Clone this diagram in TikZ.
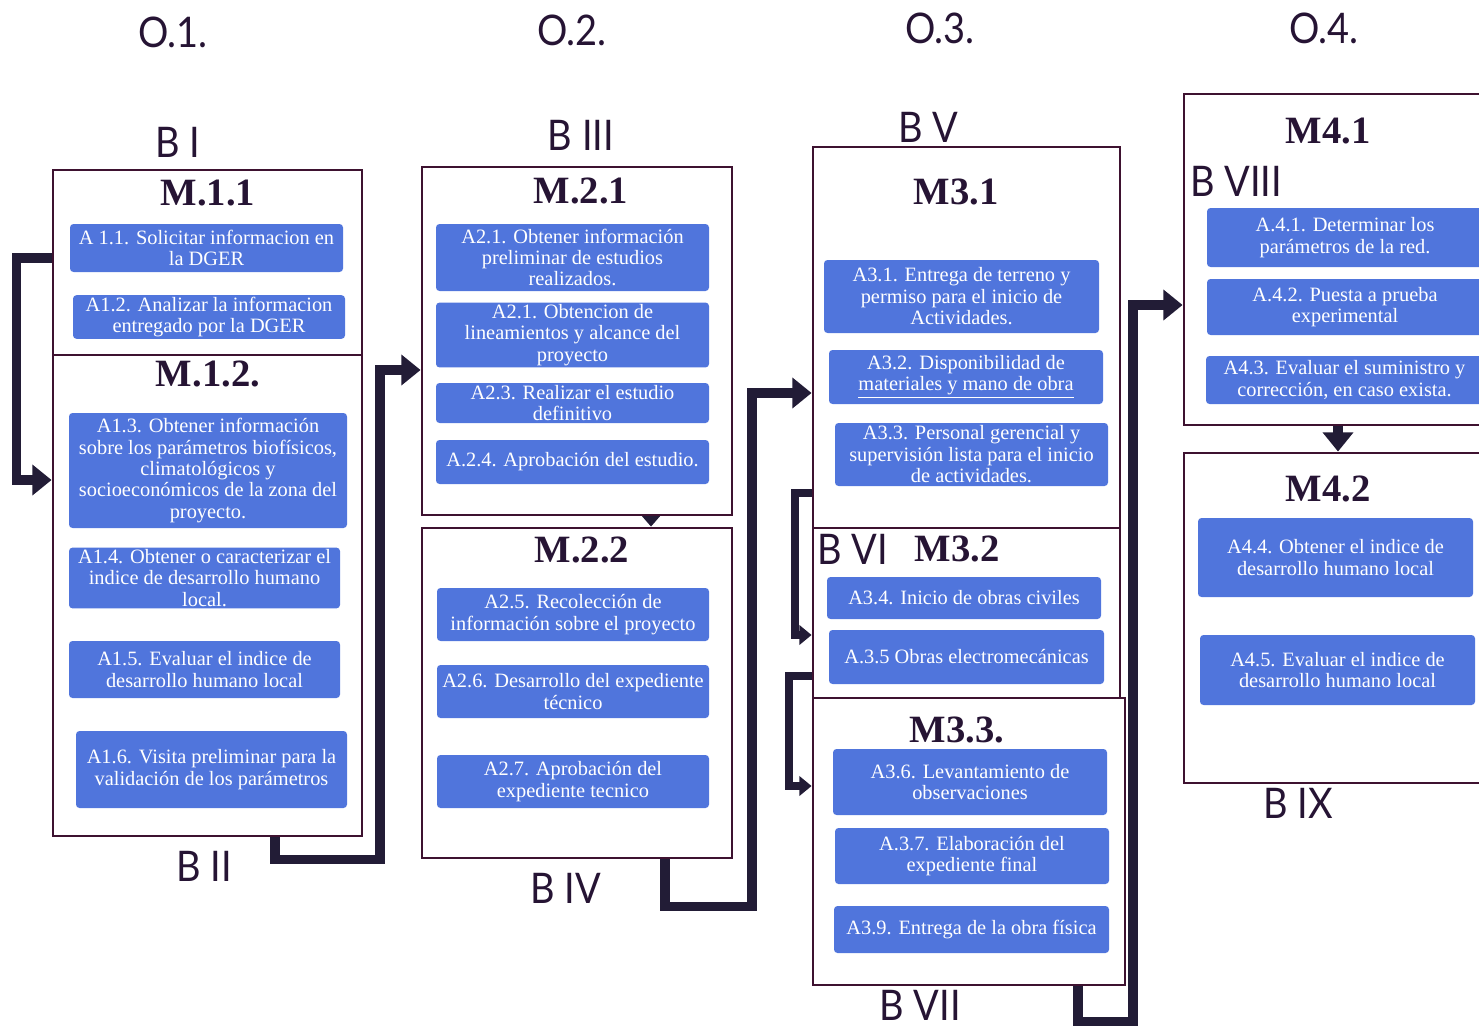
\documentclass[tikz,border=0pt]{standalone}
\usepackage{fontspec}
\setmainfont{Liberation Serif}
\newfontfamily\gill[FakeStretch=0.9]{Lato}
\usetikzlibrary{arrows.meta}
\newdimen\pxu
\pxu=0.02cm
\definecolor{actblue}{RGB}{80,117,220}
\definecolor{frame}{RGB}{62,18,48}
\definecolor{ink}{RGB}{38,20,52}
\definecolor{pipe}{RGB}{34,28,54}
\begin{document}
\begin{tikzpicture}[x=0.02cm,y=-0.02cm,sz/.style 2 args={minimum width=#1\pxu,minimum height=#2\pxu}]
  \tikzstyle{act}=[rectangle,rounded corners=2pt,fill=actblue,text=white,align=center,inner sep=1pt,font=\fontsize{11.6}{12.2}\selectfont]
  \tikzstyle{mod}=[rectangle,draw=frame,line width=1.6pt,inner sep=0]
  \tikzstyle{tt}=[text=ink,font=\fontsize{22}{24}\selectfont\bfseries]
  \tikzstyle{bl}=[text=ink,font=\gill\fontsize{24}{26}\selectfont]
  \tikzstyle{link}=[draw=pipe,line width=5.5pt,-{Triangle[length=11pt,width=17pt]}]
  \tikzstyle{slink}=[draw=pipe,line width=4.5pt,-{Triangle[length=7pt,width=11pt]}]

  \useasboundingbox (0,0) rectangle (1479,1027);

  \node[bl] (o1) at (173,32) {O.1.};
  \node[bl] (o2) at (572,30) {O.2.};
  \node[bl] (o3) at (940,28) {O.3.};
  \node[bl] (o4) at (1324,28) {O.4.};

  \node[mod,sz={309}{185}] (m11) at (207.5,262.5) {};
  \node[mod,sz={309}{481}] (m12) at (207.5,595.5) {};
  \node[mod,sz={310}{348}] (m21) at (577,341) {};
  \node[mod,sz={310}{330}] (m22) at (577,693) {};
  \node[mod,sz={307}{381}] (m31) at (966.5,337.5) {};
  \node[mod,sz={307}{170}] (m32) at (966.5,613) {};
  \node[mod,sz={312}{287}] (m33) at (969,841.5) {};
  \node[mod,sz={311}{331}] (m41) at (1339.5,259.5) {};
  \node[mod,sz={311}{330}] (m42) at (1339.5,618) {};

  \node[bl] (b1) at (178,142) {B I};
  \node[bl] (b2) at (204,866) {B II};
  \node[bl] (b3) at (581,135) {B III};
  \node[bl] (b4) at (566,888) {B IV};
  \node[bl] (b5) at (928,127) {B V};
  \node[bl] (b6) at (853,549) {B VI};
  \node[bl] (b7) at (920,1005) {B VII};
  \node[bl] (b8) at (1236,181) {B VIII};
  \node[bl] (b9) at (1298,803) {B IX};

  \node[tt] (t11) at (208,193) {M.1.1};
  \node[tt] (t12) at (208,374) {M.1.2.};
  \node[tt] (t21) at (581,191) {M.2.1};
  \node[tt] (t22) at (582,550) {M.2.2};
  \node[tt] (t31) at (956,192) {M3.1};
  \node[tt] (t32) at (957,549) {M3.2};
  \node[tt] (t33) at (957,730) {M3.3.};
  \node[tt] (t41) at (1328,131) {M4.1};
  \node[tt] (t42) at (1328,489) {M4.2};

  \node[act,sz={273}{48}] (a11) at (206.5,248) {A 1.1. Solicitar informacion en\\la DGER};
  \node[act,sz={272}{42}] (a12) at (209,317) {A1.2. Analizar la informacion\\entregado por la DGER};
  \node[act,sz={278}{115}] (a13) at (208,470.5) {A1.3. Obtener información\\sobre los parámetros biofísicos,\\climatológicos y\\socioeconómicos de la zona del\\proyecto.};
  \node[act,sz={271}{58}] (a14) at (204.5,578) {A1.4. Obtener o caracterizar el\\indice de desarrollo humano\\local.};
  \node[act,sz={271}{57}] (a15) at (204.5,669.5) {A1.5. Evaluar el indice de\\desarrollo humano local};
  \node[act,sz={271}{77}] (a16) at (211.5,769.5) {A1.6. Visita preliminar para la\\validación de los parámetros};

  \node[act,sz={273}{67}] (a21) at (572.5,257.5) {A2.1. Obtener información\\preliminar de estudios\\realizados.};
  \node[act,sz={273}{62}] (a22) at (572.5,335) {A2.1. Obtencion de\\lineamientos y alcance del\\proyecto};
  \node[act,sz={273}{40}] (a23) at (572.5,403) {A2.3. Realizar el estudio\\definitivo};
  \node[act,sz={273}{44}] (a24) at (572.5,462) {A.2.4. Aprobación del estudio.};
  \node[act,sz={272}{53}] (a25) at (573,614.5) {A2.5. Recolección de\\información sobre el proyecto};
  \node[act,sz={272}{53}] (a26) at (573,691.5) {A2.6. Desarrollo del expediente\\técnico};
  \node[act,sz={272}{53}] (a27) at (573,781.5) {A2.7. Aprobación del\\expediente tecnico};

  \node[act,sz={275}{73}] (a31) at (961.5,296.5) {A3.1. Entrega de terreno y\\permiso para el inicio de\\Actividades.};
  \node[act,sz={274}{54}] (a32) at (966,377) {A3.2. Disponibilidad de\\\underline{materiales y mano de obra}};
  \node[act,sz={273}{63}] (a33) at (971.5,454.5) {A3.3. Personal gerencial y\\supervisión lista para el inicio\\de actividades.};
  \node[act,sz={274}{42}] (a34) at (964,598) {A3.4. Inicio de obras civiles};
  \node[act,sz={275}{54}] (a35) at (966.5,657) {A.3.5 Obras electromecánicas};
  \node[act,sz={274}{66}] (a36) at (970,782) {A3.6. Levantamiento de\\observaciones};
  \node[act,sz={274}{56}] (a37) at (972,856) {A.3.7. Elaboración del\\expediente final};
  \node[act,sz={275}{47}] (a39) at (971.5,929.5) {A3.9. Entrega de la obra física};

  \node[act,sz={276}{59}] (a41) at (1345,237.5) {A.4.1. Determinar los\\parámetros de la red.};
  \node[act,sz={276}{56}] (a42) at (1345,307) {A.4.2. Puesta a prueba\\experimental};
  \node[act,sz={277}{48}] (a43) at (1344.5,380) {A4.3. Evaluar el suministro y\\corrección, en caso exista.};
  \node[act,sz={275}{79}] (a44) at (1335.5,557.5) {A4.4. Obtener el indice de\\desarrollo humano local};
  \node[act,sz={275}{70}] (a45) at (1337.5,670) {A4.5. Evaluar el indice de\\desarrollo humano local};

  \draw[link] ([yshift=4.5\pxu]m11.west) -- ++(-35,0) |- ([yshift=115.5\pxu]m12.west);
  \draw[link] ([xshift=67.5\pxu]m12.south) -- ++(0,22) -- ++(105,0) |- ([yshift=-29\pxu]m21.west);
  \draw[draw=pipe,line width=2.5pt,-{Triangle[length=6pt,width=10pt]}] ([xshift=74\pxu]m21.south) -- ([xshift=74\pxu]m22.north);
  \draw[link] ([xshift=88\pxu]m22.south) -- ++(0,47) -- ++(87,0) |- ([yshift=-55.5\pxu]m31.west);
  \draw[slink] ([yshift=-155.5\pxu]m31.west) -- ++(-17,0) |- ([yshift=-22\pxu]m32.west);
  \draw[slink] ([yshift=-63\pxu]m32.west) -- ++(-23,0) |- ([yshift=55.5\pxu]m33.west);
  \draw[link] ([xshift=109\pxu]m33.south) -- ++(0,35) -- ++(55,0) |- ([yshift=-45.5\pxu]m41.west);
  \draw[link] ([xshift=-1.5\pxu]m41.south) -- ([xshift=-1.5\pxu]m42.north);
\end{tikzpicture}
\end{document}
